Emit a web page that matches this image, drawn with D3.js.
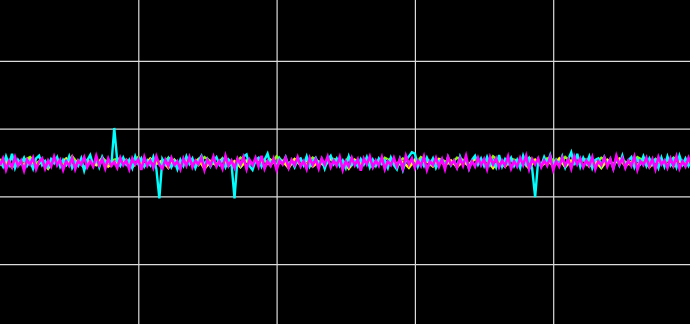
<!DOCTYPE html>
<html>
<head>
<script src="https://cdn.jsdelivr.net/npm/d3@7"></script>
<style>
  html, body { margin: 0; padding: 0; background: #000; overflow: hidden; }
</style>
</head>
<body>
<div id="chart"></div>
<script>
// x grid ticks and y grid ticks (data units)
const xTicks = [100, 200, 300, 400];
const yTicks = [-15, -5, 5, 15];

// signal traces (units: 10 = one grid cell)
const cyan = [
  0.2,-0.6,0.9,-0.3,1.3,-0.8,0.4,-0.2,0.7,-0.5,
  0.3,-0.9,0.6,1.0,-0.4,0.2,-0.7,0.5,-0.1,0.8,
  -0.6,0.4,-0.3,0.9,-0.8,0.1,-0.5,0.6,-1.2,0.3,
  1.1,-0.4,0.5,-0.7,0.8,-0.2,0.4,-0.6,5.1,0.2,
  -0.5,0.7,-0.3,0.4,-0.8,0.9,-0.2,0.6,-0.6,0.3,
  -0.4,0.8,-0.9,-5.3,0.5,-0.3,0.6,-0.7,0.2,-1.0,
  0.4,-0.5,0.9,-0.2,0.6,-0.8,0.3,1.0,-0.4,0.5,
  -0.6,0.2,0.8,-0.3,0.5,-0.7,0.4,-0.2,-5.3,0.6,
  -0.4,0.9,1.2,-0.5,-1.1,0.3,0.7,-0.6,0.4,1.3,
  -0.3,0.5,-0.8,0.6,-0.2,0.8,-0.5,0.3,-0.7,0.4,
  0.6,-0.4,0.9,-0.6,0.2,0.7,-0.3,0.5,-0.9,0.4,
  1.0,-0.2,0.6,-0.5,0.3,-0.8,0.9,-0.4,0.2,-0.6,
  0.5,-0.3,0.8,-0.7,0.4,-0.5,0.6,-0.2,0.3,-0.8,
  0.7,-0.4,-1.0,0.5,-1.1,0.3,0.9,1.5,1.3,-0.6,
  0.4,-0.5,0.7,-0.3,0.6,-0.8,0.2,0.5,-0.6,0.8,
  -0.4,0.3,-0.7,0.9,-0.2,0.5,-0.9,0.4,1.0,-0.3,
  0.6,-0.5,0.8,-0.4,0.3,-0.7,1.1,-0.6,0.5,-0.2,
  0.7,-0.5,0.4,-0.8,1.0,-0.3,0.6,-0.9,-5.1,0.3,
  -0.5,0.8,-0.2,1.1,-0.6,0.4,-0.3,0.9,-0.7,0.5,
  1.5,-0.4,1.3,-0.6,0.7,-0.2,0.9,-0.8,0.4,0.6,
  -0.5,0.8,-0.3,0.5,-0.9,0.7,-0.4,1.0,-0.6,0.3,
  0.8,-0.7,0.5,-0.2,0.9,-0.5,0.6,-0.3,0.4,-0.8,
  0.7,-0.6,0.9,-0.4,0.5,-0.7,1.0,-0.3,0.6,-0.5,0.4
];

const magenta = [
  -0.4,0.6,-1.1,0.2,-0.7,0.8,-0.5,0.3,-1.2,0.4,
  -0.3,0.7,-1.0,0.1,0.6,-0.9,0.3,-0.6,0.9,-0.4,
  0.4,-1.1,0.2,-0.5,0.7,-1.0,0.3,-0.3,0.8,-0.7,
  0.2,-0.6,1.0,-0.4,0.5,-0.9,0.6,-0.5,0.1,-0.8,
  0.7,-0.4,0.3,-1.0,0.6,-0.3,0.5,-1.1,0.8,-0.5,
  0.3,-0.8,0.9,-0.3,-0.9,0.4,-0.6,0.7,-0.4,0.2,
  -1.0,0.6,-0.5,0.8,-0.7,0.3,-0.3,0.7,-1.1,0.4,
  -0.4,0.9,-0.6,0.2,-0.9,1.0,-0.5,0.3,-0.8,0.6,
  -0.3,0.8,-1.0,0.4,-0.4,0.7,-0.6,1.0,-0.9,0.2,
  -0.5,0.6,-1.1,0.3,-0.3,0.7,-0.8,0.4,-0.4,0.8,
  -0.6,0.2,-1.0,0.7,-0.4,0.5,-0.9,0.6,-0.3,0.9,
  -0.7,0.3,-0.5,0.8,-1.1,0.2,-0.6,0.7,-0.4,0.5,
  -1.2,0.6,-0.3,0.9,-0.7,0.3,-0.5,0.8,-1.0,0.2,
  -0.4,0.7,-0.6,0.5,-0.9,1.0,-0.3,0.6,-0.8,0.3,
  -0.5,0.9,-1.1,0.2,-0.4,0.7,-0.6,0.5,-1.0,0.8,
  -0.3,0.3,-0.8,0.6,-0.5,1.0,-0.9,0.2,-0.6,0.7,
  -0.4,0.5,-1.0,0.8,-0.3,0.6,-0.7,0.3,-0.5,0.9,
  -0.9,0.2,-0.6,0.7,-0.4,1.0,-1.0,0.5,-0.3,0.6,
  -0.7,0.3,-0.5,0.8,-1.1,0.2,-0.6,0.7,-0.4,0.5,
  -0.9,0.9,-0.3,0.6,-0.7,0.3,-0.5,0.8,-1.0,0.2,
  -0.4,0.7,-0.6,0.5,-0.9,1.0,-0.3,0.6,-0.8,0.3,
  -0.5,0.9,-1.1,0.2,-0.4,0.7,-0.6,0.5,-1.0,0.8,
  -0.3,0.3,-0.8,0.6,-0.5,0.9,-0.9,0.2,-0.6,0.7,-0.4
];

const yellow = [
  -0.4,0.3,-0.7,0.1,-0.3,0.5,-0.6,0.2,-0.9,0.4,
  -0.2,0.6,-0.5,0.3,-0.8,0.2,-0.4,0.5,-0.6,0.1,
  -0.3,0.4,-0.7,0.2,-0.5,0.6,-0.2,0.3,-0.8,0.4,
  -0.6,0.2,-0.3,0.5,-0.9,0.1,-0.4,0.6,-0.5,0.2,
  -0.7,0.3,-0.2,0.5,-0.6,0.4,-0.3,0.2,-0.8,0.5,
  -0.4,0.3,-0.6,0.1,-0.5,0.6,-0.3,0.2,-0.9,0.4,
  -0.2,0.5,-0.7,0.3,-0.4,0.6,-0.5,0.1,-0.8,0.4,
  -0.3,0.2,-0.6,0.5,-0.4,0.3,-0.7,0.2,-0.5,0.6,
  -0.2,0.4,-0.8,0.3,-0.6,0.5,-0.3,0.1,-0.9,0.4,
  -0.5,0.2,-0.4,0.6,-0.7,0.3,-0.2,0.5,-0.6,0.2,
  -0.8,0.4,-0.3,0.5,-0.5,0.1,-0.4,0.6,-0.7,0.3,
  -0.2,0.4,-0.6,0.2,-0.5,0.3
];

const green = [
  0.5,-0.2,0.7,-0.4,0.3,0.8,-0.1,0.4,-0.3,0.6,
  0.2,-0.4,0.9,-0.2,0.5,0.1,-0.3,0.7,-0.1,0.4,
  0.6,-0.2,0.3,0.8,-0.4,0.5,0.1,-0.3,0.7,0.2,
  -0.1,0.6,0.3,-0.4,0.8,0.2,-0.2,0.5,0.4,-0.3,
  0.7,0.1,-0.2,0.6,0.3,-0.4,0.9,0.2,-0.1,0.5,
  0.3,-0.3,0.7,0.1,-0.2,0.6,0.4,-0.4,0.8,0.2,
  -0.1,0.5,0.3,-0.3,0.7,0.2,-0.2,0.6,0.1,-0.4,
  0.8,0.3,-0.1,0.5,0.2,-0.3,0.7,0.4,-0.2,0.6,
  0.1,-0.4,0.9,0.2,-0.1,0.5,0.3,-0.3,0.7,0.2,
  -0.2,0.6,0.4,-0.4,0.8,0.1,-0.1,0.5,0.3,-0.3,
  0.7,0.2,-0.2,0.6,0.1,-0.4,0.8,0.3,-0.1,0.5,
  0.2,-0.3,0.7,0.4,-0.2,0.6
];

const series = [
  {name: "green", values: green, color: "#80ff00", w: 2.5},
  {name: "yellow", values: yellow, color: "#ffff00", w: 2.5},
  {name: "cyan", values: cyan, color: "#00ffff", w: 2.4},
  {name: "magenta", values: magenta, color: "#ff00ff", w: 2.6}
];

const width = 690, height = 324;

let svg = d3.select("#chart").append("svg")
    .attr("width", width)
    .attr("height", height)
    .style("display", "block")
    .style("background", "#000");

let x = d3.scaleLinear().domain([0, 500]).range([0, 691.5]);
let y = d3.scaleLinear().domain([-24, 24]).range([325, 0]);

// grid
svg.append("g")
    .attr("transform", "translate(0," + height + ")")
    .call(d3.axisBottom(x).tickValues(xTicks).tickSize(-height).tickFormat(""))
    .call(g => g.select(".domain").remove())
    .call(g => g.selectAll(".tick line").attr("stroke", "#dcdcdc").attr("stroke-width", 1.2));

svg.append("g")
    .call(d3.axisLeft(y).tickValues(yTicks).tickSize(-width).tickFormat(""))
    .call(g => g.select(".domain").remove())
    .call(g => g.selectAll(".tick line").attr("stroke", "#dcdcdc").attr("stroke-width", 1.2));

// traces
series.forEach(s => {
    let step = 500 / (s.values.length - 1);
    let line = d3.line()
        .x((d, i) => x(i * step))
        .y(d => y(d));
    svg.append("path")
        .datum(s.values)
        .attr("fill", "none")
        .attr("stroke", s.color)
        .attr("stroke-width", s.w)
        .attr("stroke-linejoin", "miter")
        .attr("d", line);
});
</script>
</body>
</html>
